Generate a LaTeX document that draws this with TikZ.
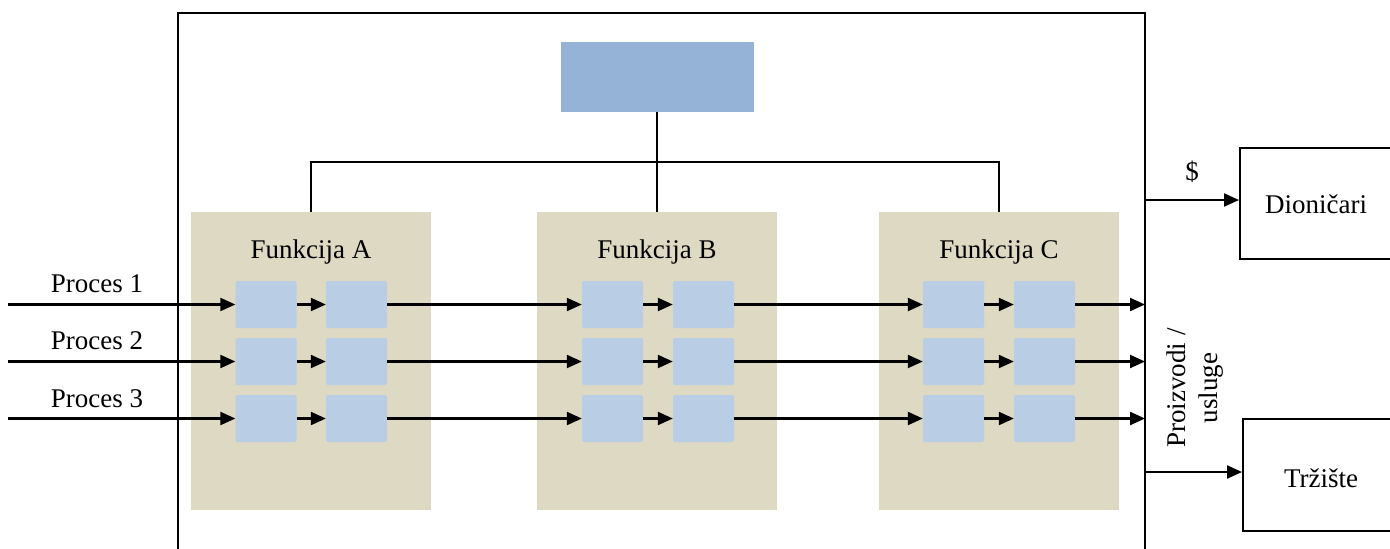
\documentclass[tikz,border=0pt]{standalone}
\usepackage{fontspec}
\setmainfont{Liberation Serif}
\usetikzlibrary{arrows.meta}
\definecolor{tanfill}{HTML}{DDD9C3}
\definecolor{topblue}{HTML}{95B3D7}
\definecolor{smallblue}{HTML}{B9CDE5}
\begin{document}
\begin{tikzpicture}[x=1pt,y=-1pt,
  lbl/.style={font=\fontsize{27}{30}\selectfont, inner sep=0pt},
  tanbox/.style={fill=tanfill, draw=none, minimum width=240pt, minimum height=298pt, inner sep=0pt},
  pbox/.style={fill=smallblue, draw=none, rounded corners=2pt, minimum width=61pt, minimum height=47pt, inner sep=0pt},
  ln/.style={line width=2.2pt},
  arr/.style={line width=2.2pt, -{Triangle[length=15pt,width=13pt]}},
  outbox/.style={draw, line width=2.2pt, fill=white}]
\clip (0,0) rectangle (1390,549);
\useasboundingbox (0,0) rectangle (1390,549);
% frame
\draw[ln] (178,560) -- (178,13) -- (1145,13) -- (1145,560);
% top box
\node[fill=topblue, minimum width=193pt, minimum height=70pt, inner sep=0pt] (top) at (657,77) {};
% function boxes
\node[tanbox] (fa) at (311,361) {};
\node[tanbox] (fb) at (657,361) {};
\node[tanbox] (fc) at (999,361) {};
\node[lbl] at (311,252) {Funkcija A};
\node[lbl] at (657,252) {Funkcija B};
\node[lbl] at (999,252) {Funkcija C};
% tree connectors
\coordinate (hj) at (657,162);
\draw[ln] (top.south) -- (hj);
\draw[ln] (fa.north) |- (hj) -| (fc.north);
\draw[ln] (hj) -- (fb.north);
% process boxes
\foreach \r/\y in {1/304.5,2/361.5,3/418.5}{
  \node[pbox] (a1\r) at (266,\y) {};
  \node[pbox] (a2\r) at (356.5,\y) {};
  \node[pbox] (b1\r) at (612.5,\y) {};
  \node[pbox] (b2\r) at (703.5,\y) {};
  \node[pbox] (c1\r) at (953.5,\y) {};
  \node[pbox] (c2\r) at (1044.5,\y) {};
  \coordinate (in\r) at (8,\y);
  \coordinate (out\r) at (1145,\y);
  \draw[arr] (in\r) -- (a1\r.west);
  \draw[arr] (a1\r) -- (a2\r);
  \draw[arr] (a2\r) -- (b1\r);
  \draw[arr] (b1\r) -- (b2\r);
  \draw[arr] (b2\r) -- (c1\r);
  \draw[arr] (c1\r) -- (c2\r);
  \draw[arr] (c2\r.east) -- (out\r);
}
\node[lbl] at (97,284) {Proces 1};
\node[lbl] at (97,341) {Proces 2};
\node[lbl] at (97,399) {Proces 3};
% outputs
\node[outbox, minimum width=170pt, minimum height=111pt, anchor=north west, inner sep=0pt] (dion) at (1239,147) {};
\node[lbl] at (1316,204) {Dioničari};
\node[outbox, minimum width=170pt, minimum height=112pt, anchor=north west, inner sep=0pt] (trz) at (1242,418) {};
\node[lbl] at (1321,478) {Tržište};
\coordinate (dsrc) at (1145,200);
\coordinate (tsrc) at (1145,472);
\draw[arr] (dsrc) -- (dsrc -| dion.west);
\draw[arr] (tsrc) -- (tsrc -| trz.west);
\node[lbl] at (1192,172) {\$};
\node[lbl, rotate=90, align=center, font=\fontsize{27}{32}\selectfont] at (1195,388) {Proizvodi /\\usluge};
\end{tikzpicture}
\end{document}
